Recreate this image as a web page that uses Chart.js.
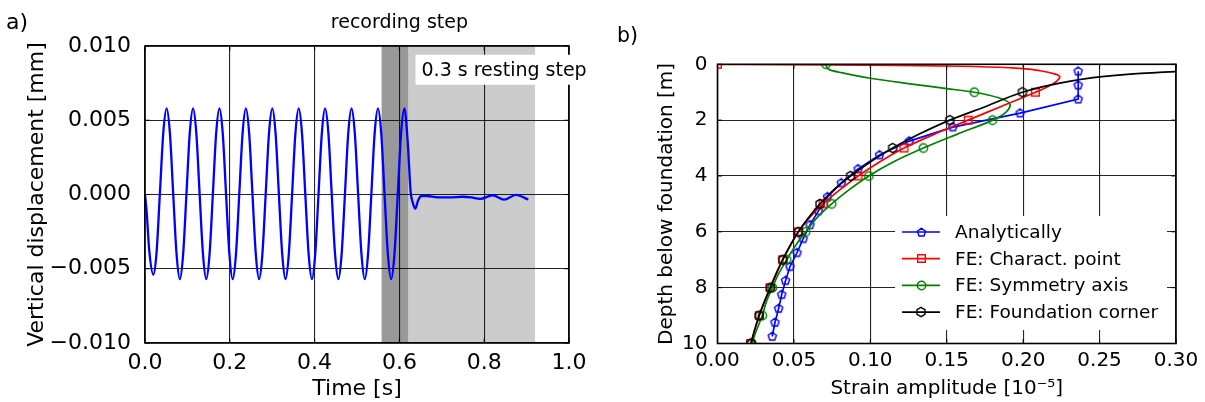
<!DOCTYPE html>
<html lang="en">
<head>
<meta charset="UTF-8">
<title>Displacement history and strain amplitude over depth</title>
<script src="https://cdn.jsdelivr.net/npm/chart.js"></script>
<style>
  html, body { margin: 0; padding: 0; background: #fff; }
  body { width: 1205px; height: 402px; position: relative; overflow: hidden; }
  .panel { position: absolute; top: 0; height: 402px; }
  #panelA { left: 0; width: 600px; }
  #panelB { left: 600px; width: 605px; }
</style>
</head>
<body>
<div class="panel" id="panelA"><canvas id="chartA"></canvas></div>
<div class="panel" id="panelB"><canvas id="chartB"></canvas></div>

<script>
  // ---- a) vertical displacement over time (read off the picture) ----
  const time = [
    0, 0.004, 0.0098, 0.0196, 0.027, 0.035, 0.043,
    0.051, 0.0588, 0.0666, 0.0744, 0.0822, 0.0900, 0.0977, 0.1055,
    0.1133, 0.1211, 0.1289, 0.1367, 0.1445, 0.1523, 0.1600, 0.1678,
    0.1756, 0.1834, 0.1912, 0.1990, 0.2068, 0.2146, 0.2223, 0.2301,
    0.2379, 0.2457, 0.2535, 0.2613, 0.2691, 0.2769, 0.2846, 0.2924,
    0.3002, 0.3080, 0.3158, 0.3236, 0.3314, 0.3392, 0.3469, 0.3547,
    0.3625, 0.3703, 0.3781, 0.3859, 0.3937, 0.4015, 0.4092, 0.4170,
    0.4248, 0.4326, 0.4404, 0.4482, 0.4560, 0.4638, 0.4715, 0.4793,
    0.4871, 0.4949, 0.5027, 0.5105, 0.5183, 0.5261, 0.5338, 0.5416,
    0.5494, 0.5572, 0.5650, 0.5728, 0.5806, 0.5884, 0.5961, 0.6039,
    0.6117, 0.6195, 0.6265, 0.632, 0.6375, 0.644, 0.652, 0.665,
    0.69, 0.72, 0.748, 0.77, 0.79, 0.82, 0.847, 0.875, 0.904
  ];
  const displacement = [
    0, -0.0012, -0.0037, -0.0054, -0.0040, 0, 0.0041,
    0.0058, 0.0041, 0, -0.0040, -0.0057, -0.0040, 0, 0.0041,
    0.0058, 0.0041, 0, -0.0040, -0.0057, -0.0040, 0, 0.0041,
    0.0058, 0.0041, 0, -0.0040, -0.0057, -0.0040, 0, 0.0041,
    0.0058, 0.0041, 0, -0.0040, -0.0057, -0.0040, 0, 0.0041,
    0.0058, 0.0041, 0, -0.0040, -0.0057, -0.0040, 0, 0.0041,
    0.0058, 0.0041, 0, -0.0040, -0.0057, -0.0040, 0, 0.0041,
    0.0058, 0.0041, 0, -0.0040, -0.0057, -0.0040, 0, 0.0041,
    0.0058, 0.0041, 0, -0.0040, -0.0057, -0.0040, 0, 0.0041,
    0.0058, 0.0041, 0, -0.0040, -0.0057, -0.0040, 0, 0.0041,
    0.0058, 0.0036, 0.0002, -0.0006, -0.00095, -0.0004, -0.0001, -0.0001,
    -0.0002, -0.0002, -0.00015, -0.0002, -0.0003, -0.00005, -0.00034, -0.00002, -0.00034
  ];
  const timeTicks = [0, 0.2, 0.4, 0.6, 0.8, 1.0];
  const dispTicks = [-0.01, -0.005, 0, 0.005, 0.01];
  const recordingStep = [0.558, 0.621];
  const restingStep = [0.621, 0.92];

  // ---- b) strain amplitude over depth ----
  const depthAnalytic = [0.25, 0.75, 1.25, 1.75, 2.25, 2.75, 3.25, 3.75, 4.25, 4.75,
                         5.25, 5.75, 6.25, 6.75, 7.25, 7.75, 8.25, 8.75, 9.25, 9.75];
  const strainAnalytic = [0.236, 0.236, 0.236, 0.198, 0.154, 0.1255, 0.106, 0.092, 0.081, 0.072,
                          0.066, 0.0605, 0.056, 0.052, 0.0474, 0.0445, 0.042, 0.040, 0.0376, 0.0358];

  const depthCharact = [0, 0.01, 0.02, 0.04, 0.07, 0.13, 0.23, 0.35, 0.45, 0.6, 0.8, 1,
                        1.5, 2, 2.5, 3, 3.5, 4, 4.5, 5, 5.5, 6, 6.5, 7, 7.5, 8, 8.5, 9, 9.5, 10];
  const strainCharact = [0, 0.045, 0.075, 0.117, 0.160, 0.193, 0.211, 0.221, 0.224, 0.222, 0.216, 0.208,
                         0.186, 0.164, 0.142, 0.122, 0.106, 0.092, 0.080, 0.069, 0.060, 0.053, 0.0475,
                         0.0427, 0.0383, 0.0344, 0.0307, 0.0274, 0.0244, 0.0217];

  const depthSymmetry = [0, 0.1, 0.2, 0.3, 0.5, 0.7, 0.87, 1, 1.2, 1.45, 1.7, 2,
                         2.5, 3, 3.5, 4, 4.5, 5, 5.5, 6, 6.5, 7, 7.5, 8, 8.5, 9, 9.5, 10];
  const strainSymmetry = [0.071, 0.0715, 0.0735, 0.081, 0.0998, 0.126, 0.150, 0.168, 0.184, 0.1915, 0.189, 0.180,
                          0.157, 0.1347, 0.115, 0.099, 0.086, 0.0747, 0.065, 0.0577, 0.051, 0.0453,
                          0.040, 0.0359, 0.032, 0.0293, 0.0257, 0.0224];

  const depthCorner = [0, 0.1, 0.2, 0.26, 0.35, 0.45, 0.6, 0.8, 1, 1.5, 2,
                       2.5, 3, 3.5, 4, 4.5, 5, 5.5, 6, 6.5, 7, 7.5, 8, 8.5, 9, 9.5, 10];
  const strainCorner = [0.55, 0.42, 0.33, 0.300, 0.270, 0.250, 0.231, 0.213, 0.1995, 0.176, 0.152,
                        0.132, 0.1146, 0.100, 0.0871, 0.076, 0.0671, 0.0595, 0.0529, 0.0475, 0.0427,
                        0.0385, 0.0346, 0.0307, 0.0272, 0.0244, 0.0219];

  const strainTicks = [0, 0.05, 0.10, 0.15, 0.20, 0.25, 0.30];
  const depthTicks = [0, 2, 4, 6, 8, 10];

  Chart.defaults.font.family = '"DejaVu Sans", sans-serif';
  Chart.defaults.color = '#000';

  // hollow matplotlib-like markers as small canvases
  function makeMarker(kind, color, r) {
    const s = Math.ceil(2 * r + 4);
    const c = document.createElement('canvas');
    c.width = s; c.height = s;
    const g = c.getContext('2d');
    g.strokeStyle = color;
    g.lineWidth = 1.4;
    const cx = s / 2, cy = s / 2;
    g.beginPath();
    if (kind === 'circle') {
      g.arc(cx, cy, r, 0, Math.PI * 2);
    } else {
      const n = { square: 4, pentagon: 5, hexagon: 6 }[kind];
      const start = kind === 'square' ? Math.PI / 4 : -Math.PI / 2;
      for (let i = 0; i < n; i++) {
        const a = start + i * 2 * Math.PI / n;
        const px = cx + r * Math.cos(a), py = cy + r * Math.sin(a);
        if (i === 0) g.moveTo(px, py); else g.lineTo(px, py);
      }
      g.closePath();
    }
    g.stroke();
    return c;
  }

  const gridStyle = { color: 'rgba(0,0,0,0.85)', lineWidth: 1.1, drawTicks: false };
  const fmtMinus = v => (v < 0 ? '\u2212' : '') + Math.abs(v).toFixed(3);

  // frame + inward tick marks on all four sides
  const framePlugin = {
    id: 'frame',
    afterDraw(chart) {
      const { ctx, chartArea: a, scales } = chart;
      ctx.save();
      ctx.strokeStyle = '#000';
      ctx.lineWidth = 1;
      const tl = 4.5;
      scales.x.ticks.forEach(t => {
        const p = scales.x.getPixelForValue(t.value);
        ctx.beginPath();
        ctx.moveTo(p, a.bottom); ctx.lineTo(p, a.bottom - tl);
        ctx.moveTo(p, a.top); ctx.lineTo(p, a.top + tl);
        ctx.stroke();
      });
      scales.y.ticks.forEach(t => {
        const p = scales.y.getPixelForValue(t.value);
        ctx.beginPath();
        ctx.moveTo(a.left, p); ctx.lineTo(a.left + tl, p);
        ctx.moveTo(a.right, p); ctx.lineTo(a.right - tl, p);
        ctx.stroke();
      });
      ctx.lineWidth = 1.6;
      ctx.strokeRect(a.left, a.top, a.right - a.left, a.bottom - a.top);
      ctx.restore();
    }
  };

  // a) grey bands for the recording and resting steps, under the grid
  const bandsPlugin = {
    id: 'bands',
    beforeDraw(chart) {
      const { ctx, chartArea: a, scales: { x } } = chart;
      ctx.save();
      ctx.fillStyle = '#cccccc';
      ctx.fillRect(x.getPixelForValue(restingStep[0]), a.top,
        x.getPixelForValue(restingStep[1]) - x.getPixelForValue(restingStep[0]), a.bottom - a.top);
      ctx.fillStyle = '#999999';
      ctx.fillRect(x.getPixelForValue(recordingStep[0]), a.top,
        x.getPixelForValue(recordingStep[1]) - x.getPixelForValue(recordingStep[0]), a.bottom - a.top);
      ctx.restore();
    }
  };

  const labelsA = {
    id: 'labelsA',
    afterDraw(chart) {
      const { ctx, chartArea: a, scales: { x, y } } = chart;
      ctx.save();
      ctx.fillStyle = '#000';
      ctx.font = '22px "DejaVu Sans"';
      ctx.textAlign = 'left';
      ctx.textBaseline = 'alphabetic';
      ctx.fillText('a)', 6, 28.5);

      ctx.font = '19px "DejaVu Sans"';
      ctx.textAlign = 'center';
      ctx.textBaseline = 'middle';
      ctx.fillText('recording step', x.getPixelForValue(0.6), a.top - 23);

      // white box with the resting-step label
      const txt = '0.3 s resting step';
      const bx = x.getPixelForValue(0.638), by = y.getPixelForValue(0.0084);
      const w = ctx.measureText(txt).width + 12;
      ctx.fillStyle = '#fff';
      ctx.fillRect(bx, by - 15, w, 30);
      ctx.fillStyle = '#000';
      ctx.textAlign = 'left';
      ctx.fillText(txt, bx + 6, by + 1);
      ctx.restore();
    }
  };

  new Chart(document.getElementById('chartA'), {
    type: 'line',
    data: {
      datasets: [{
        label: 'Vertical displacement',
        data: time.map((t, i) => ({ x: t, y: displacement[i] })),
        borderColor: '#0000ff',
        borderWidth: 2.3,
        pointRadius: 0,
        cubicInterpolationMode: 'monotone',
        fill: false
      }]
    },
    options: {
      responsive: true,
      maintainAspectRatio: false,
      animation: false,
      events: [],
      layout: { padding: { left: 24, top: 46, right: 31, bottom: 0 } },
      plugins: { legend: { display: false }, tooltip: { enabled: false } },
      scales: {
        x: {
          type: 'linear', min: 0, max: 1,
          afterBuildTicks: s => { s.ticks = timeTicks.map(v => ({ value: v })); },
          afterFit: s => { s.height = 59; },
          ticks: { font: { size: 22 }, padding: 7, maxRotation: 0, autoSkip: false, callback: v => v.toFixed(1) },
          grid: gridStyle,
          border: { display: false },
          title: { display: true, text: 'Time [s]', font: { size: 22 }, padding: 0 }
        },
        y: {
          type: 'linear', min: -0.01, max: 0.01,
          afterBuildTicks: s => { s.ticks = dispTicks.map(v => ({ value: v })); },
          afterFit: s => { s.width = 121; },
          ticks: { font: { size: 22 }, padding: 14, autoSkip: false, callback: fmtMinus },
          grid: gridStyle,
          border: { display: false },
          title: { display: true, text: 'Vertical displacement [mm]', font: { size: 22 }, padding: 0 }
        }
      }
    },
    plugins: [bandsPlugin, framePlugin, labelsA]
  });

  // ---- b) ----
  const markerR = { pentagon: 4.3, square: 5.4, circle: 4.2, hexagon: 4.6 };
  const seriesB = [
    { label: 'Analytically', color: '#0000ff', marker: 'pentagon', depth: depthAnalytic, strain: strainAnalytic, straight: true },
    { label: 'FE: Charact. point', color: '#ff0000', marker: 'square', depth: depthCharact, strain: strainCharact },
    { label: 'FE: Symmetry axis', color: '#008000', marker: 'circle', depth: depthSymmetry, strain: strainSymmetry },
    { label: 'FE: Foundation corner', color: '#000000', marker: 'hexagon', depth: depthCorner, strain: strainCorner }
  ];
  seriesB.forEach(s => { s.img = makeMarker(s.marker, s.color, markerR[s.marker]); });

  const legendB = {
    id: 'legendB',
    afterDatasetsDraw(chart) {
      const { ctx, chartArea: a } = chart;
      ctx.save();
      ctx.fillStyle = '#fff';
      ctx.fillRect(a.right - 281, a.bottom - 127.5, 272, 114);
      ctx.font = '18.5px "DejaVu Sans"';
      ctx.textAlign = 'left';
      ctx.textBaseline = 'middle';
      seriesB.forEach((s, i) => {
        const yy = a.bottom - 111.5 + i * 26.7;
        ctx.strokeStyle = s.color;
        ctx.lineWidth = 1.7;
        ctx.beginPath();
        ctx.moveTo(a.right - 274, yy);
        ctx.lineTo(a.right - 236, yy);
        ctx.stroke();
        ctx.drawImage(s.img, Math.round(a.right - 255 - s.img.width / 2), Math.round(yy - s.img.height / 2));
        ctx.fillStyle = '#000';
        ctx.fillText(s.label, a.right - 221, yy + 1);
      });
      ctx.restore();
    }
  };

  const labelsB = {
    id: 'labelsB',
    afterDraw(chart) {
      const { ctx } = chart;
      ctx.save();
      ctx.fillStyle = '#000';
      ctx.font = '20.5px "DejaVu Sans"';
      ctx.textBaseline = 'alphabetic';
      ctx.fillText('b)', 17, 42.3);
      ctx.restore();
    }
  };

  new Chart(document.getElementById('chartB'), {
    type: 'line',
    data: {
      datasets: seriesB.map((s, k) => ({
        label: s.label,
        data: s.depth.map((d, i) => ({ x: s.strain[i], y: d })),
        borderColor: s.color,
        borderWidth: 1.7,
        fill: false,
        tension: 0,
        cubicInterpolationMode: s.straight ? 'default' : 'monotone',
        pointStyle: s.img,
        pointRadius: ctx => (s.straight || Number.isInteger(ctx.raw.y)) ? 4 : 0,
        order: seriesB.length - k
      }))
    },
    options: {
      indexAxis: 'y',
      responsive: true,
      maintainAspectRatio: false,
      animation: false,
      events: [],
      layout: { padding: { left: 55, top: 64.3, right: 29, bottom: 0 } },
      plugins: { legend: { display: false }, tooltip: { enabled: false } },
      scales: {
        x: {
          type: 'linear', position: 'bottom', min: 0, max: 0.3,
          afterBuildTicks: s => { s.ticks = strainTicks.map(v => ({ value: v })); },
          afterFit: s => { s.height = 58.5; },
          ticks: { font: { size: 20 }, padding: 5.5, maxRotation: 0, autoSkip: false, callback: v => v.toFixed(2) },
          grid: gridStyle,
          border: { display: false },
          title: { display: true, text: 'Strain amplitude [10\u207B\u2075]', font: { size: 20 }, padding: { top: 0, bottom: 1.5 } }
        },
        y: {
          type: 'linear', position: 'left', min: 0, max: 10, reverse: true,
          afterBuildTicks: s => { s.ticks = depthTicks.map(v => ({ value: v })); },
          afterFit: s => { s.width = 62.5; },
          ticks: { font: { size: 20 }, padding: 10, autoSkip: false, callback: v => String(v) },
          grid: gridStyle,
          border: { display: false },
          title: { display: true, text: 'Depth below foundation [m]', font: { size: 20 }, padding: 0 }
        }
      }
    },
    plugins: [legendB, framePlugin, labelsB]
  });
</script>
</body>
</html>
